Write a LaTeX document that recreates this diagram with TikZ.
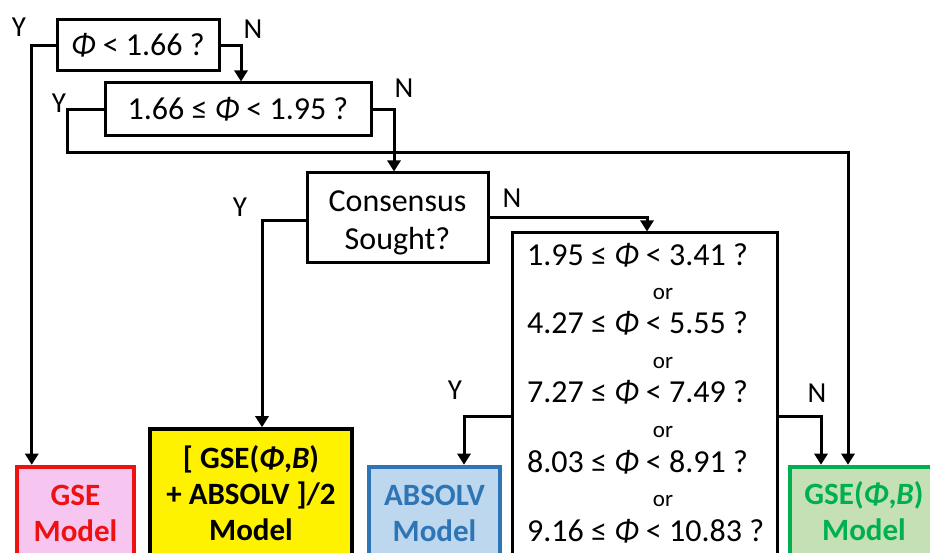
\documentclass[tikz,border=0pt]{standalone}
\usepackage{fontspec}
\setmainfont{Carlito}
\usetikzlibrary{arrows.meta}
\definecolor{pinkfill}{HTML}{F7C6F0}
\definecolor{redline}{HTML}{EE1111}
\definecolor{bluefill}{HTML}{BDD7EE}
\definecolor{blueline}{HTML}{2E75B6}
\definecolor{greenfill}{HTML}{C5E0B4}
\definecolor{greenline}{HTML}{00B050}
\newcommand{\PH}{\textit{Φ}}
\newcommand{\BB}{\textit{B}}
\begin{document}
\begin{tikzpicture}[x=1pt,y=-1pt,
  conn/.style={line width=3pt},
  arr/.style={conn,-{Triangle[width=13pt,length=11pt]}},
  qbox/.style={draw,line width=3pt,inner sep=0pt,font=\fontsize{32}{37}\selectfont,align=center},
  yn/.style={font=\fontsize{29}{30}\selectfont,inner sep=0pt},
  ortext/.style={font=\fontsize{23}{24}\selectfont,inner sep=0pt,anchor=base},
  cond/.style={font=\fontsize{32}{35}\selectfont,inner sep=0pt,anchor=base west},
  model/.style={line width=4.5pt,inner sep=0pt,minimum height=133pt},
  mtext/.style={font=\bfseries\fontsize{31}{36}\selectfont,align=center,inner sep=0pt}
]
\useasboundingbox (0,0) rectangle (930,553);
\clip (0,0) rectangle (930,553);

% question boxes
\node[qbox,minimum width=162pt,minimum height=51pt] (b1) at (138,45.5) {\PH{} < 1.66 ?};
\node[qbox,minimum width=266pt,minimum height=53pt] (b2) at (238,109.5) {1.66 ≤ \PH{} < 1.95 ?};
\node[qbox,minimum width=181pt,minimum height=90pt] (cons) at (397.5,218) {};
\node[font=\fontsize{32}{38}\selectfont,align=center,inner sep=0pt] (const) at (397.5,223) {Consensus\\Sought?};
\node[qbox,minimum width=265pt,minimum height=367pt] (big) at (644.5,416.5) {};

% condition lines
\node[cond] (c1) at (527,266) {1.95 ≤ \PH{} < 3.41 ?};
\node[ortext] (o1) at (663,300) {or};
\node[cond] (c2) at (527,334) {4.27 ≤ \PH{} < 5.55 ?};
\node[ortext] (o2) at (663,369) {or};
\node[cond] (c3) at (527,403) {7.27 ≤ \PH{} < 7.49 ?};
\node[ortext] (o3) at (663,438) {or};
\node[cond] (c4) at (527,472) {8.03 ≤ \PH{} < 8.91 ?};
\node[ortext] (o4) at (663,507) {or};
\node[cond] (c5) at (527,541) {9.16 ≤ \PH{} < 10.83 ?};

% model boxes
\node[model,draw=redline,fill=pinkfill,minimum width=117pt] (gse) at (75.5,533.5) {};
\node[model,draw=black,line width=3.5pt,fill=yellow,minimum width=202pt,minimum height=171pt] (avg) at (251,514.5) {};
\node[model,draw=blueline,fill=bluefill,minimum width=131pt] (abs) at (434.5,533.5) {};
\node[model,draw=greenline,fill=greenfill,minimum width=148pt] (gsb) at (864,533.5) {};

\node[mtext,text=redline] (gset) at (75.5,513) {GSE\\Model};
\node[mtext,text=black] (avgt) at (251,493) {[ GSE(\PH,\BB)\\+ ABSOLV ]/2\\Model};
\node[mtext,text=blueline] (abst) at (434.5,513.5) {ABSOLV\\Model};
\node[mtext,text=greenline] (gsbt) at (864,511.5) {GSE(\PH,\BB)\\Model};

% Y / N labels
\node[yn] (y1) at (19,27) {Y};
\node[yn] (n1) at (253,29) {N};
\node[yn] (y2) at (59,103) {Y};
\node[yn] (n2) at (404,88) {N};
\node[yn] (y3) at (240,207) {Y};
\node[yn] (n3) at (512,198) {N};
\node[yn] (y4) at (455,390) {Y};
\node[yn] (n4) at (817,393) {N};

% connectors
\coordinate (k2) at (848,153);
\draw[arr] (b1.west) -| ([xshift=17pt]gse.north west);
\draw[arr] (b1.east) -| ([xshift=3pt]b2.north);
\draw[arr] (b2.west) -- ++(-36,0) |- (k2) -- (k2 |- gsb.north);
\draw[arr] (b2.east) -| ([xshift=-3.5pt]cons.north);
\draw[arr] ([yshift=-3pt]cons.west) -| ([xshift=11pt]avg.north);
\draw[arr] (cons.east) -| ([xshift=2.5pt]big.north);
\draw[arr] (big.west) -| ([xshift=29.5pt]abs.north);
\draw[arr] (big.east) -| ([xshift=-43pt]gsb.north);
\end{tikzpicture}
\end{document}
